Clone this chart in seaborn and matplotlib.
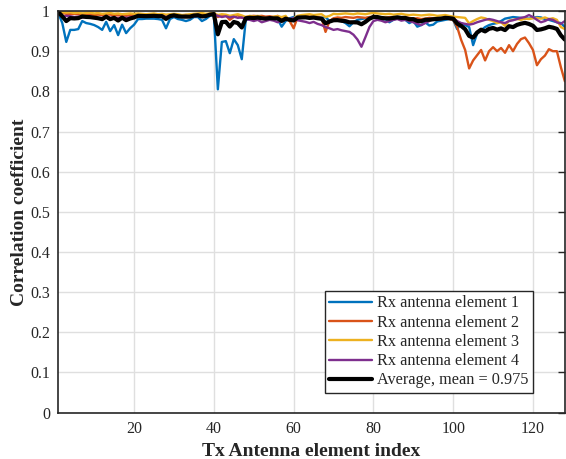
import matplotlib

matplotlib.use("Agg")

import matplotlib.pyplot as plt
import numpy as np
import pandas as pd
import seaborn as sns

# ------------------------------------------------------------------
# DATA
# ------------------------------------------------------------------

tx_index = list(range(1, 129))

rx1 = [
    0.995, 0.970, 0.923, 0.953, 0.953, 0.955, 0.975, 0.970, 0.968, 0.965,
    0.960, 0.953, 0.973, 0.950, 0.965, 0.940, 0.966, 0.945, 0.957, 0.966,
    0.980, 0.980, 0.981, 0.981, 0.981, 0.980, 0.978, 0.957, 0.980, 0.985,
    0.980, 0.978, 0.975, 0.978, 0.985, 0.985, 0.975, 0.980, 0.988, 0.990,
    0.805, 0.923, 0.925, 0.895, 0.930, 0.915, 0.880, 0.978, 0.980, 0.981,
    0.982, 0.983, 0.982, 0.981, 0.980, 0.980, 0.961, 0.975, 0.982, 0.985,
    0.985, 0.984, 0.985, 0.983, 0.985, 0.984, 0.983, 0.985, 0.975, 0.980,
    0.978, 0.975, 0.970, 0.962, 0.972, 0.978, 0.980, 0.982, 0.984, 0.985,
    0.983, 0.978, 0.980, 0.972, 0.978, 0.982, 0.980, 0.978, 0.970, 0.975,
    0.961, 0.965, 0.972, 0.964, 0.966, 0.974, 0.976, 0.978, 0.980, 0.978,
    0.955, 0.970, 0.965, 0.960, 0.915, 0.944, 0.952, 0.960, 0.965, 0.968,
    0.970, 0.975, 0.981, 0.983, 0.985, 0.984, 0.983, 0.982, 0.981, 0.983,
    0.985, 0.984, 0.980, 0.978, 0.975, 0.972, 0.970, 0.960,
]

rx2 = [
    1.000, 0.995, 0.993, 0.992, 0.993, 0.992, 0.993, 0.991, 0.992, 0.990,
    0.991, 0.990, 0.992, 0.991, 0.990, 0.989, 0.991, 0.988, 0.990, 0.991,
    0.990, 0.991, 0.990, 0.989, 0.990, 0.991, 0.990, 0.988, 0.990, 0.991,
    0.990, 0.989, 0.990, 0.988, 0.990, 0.991, 0.990, 0.989, 0.992, 0.993,
    0.985, 0.990, 0.989, 0.978, 0.985, 0.990, 0.983, 0.985, 0.987, 0.988,
    0.987, 0.988, 0.986, 0.987, 0.985, 0.988, 0.980, 0.983, 0.975, 0.957,
    0.985, 0.987, 0.988, 0.986, 0.987, 0.985, 0.983, 0.948, 0.975, 0.982,
    0.984, 0.983, 0.985, 0.984, 0.983, 0.985, 0.984, 0.983, 0.985, 0.986,
    0.985, 0.984, 0.983, 0.985, 0.984, 0.983, 0.982, 0.984, 0.983, 0.981,
    0.982, 0.980, 0.981, 0.983, 0.982, 0.981, 0.980, 0.982, 0.980, 0.978,
    0.960, 0.928, 0.903, 0.857, 0.877, 0.890, 0.903, 0.877, 0.900, 0.910,
    0.900, 0.908, 0.896, 0.915, 0.900, 0.918, 0.930, 0.934, 0.920, 0.903,
    0.865, 0.880, 0.889, 0.905, 0.900, 0.900, 0.860, 0.825,
]

rx3 = [
    1.000, 0.997, 0.996, 0.997, 0.995, 0.996, 0.994, 0.995, 0.996, 0.994,
    0.995, 0.993, 0.994, 0.995, 0.993, 0.994, 0.992, 0.993, 0.994, 0.993,
    0.994, 0.993, 0.992, 0.993, 0.994, 0.992, 0.993, 0.991, 0.992, 0.993,
    0.992, 0.990, 0.991, 0.992, 0.993, 0.994, 0.995, 0.993, 0.994, 0.995,
    0.990, 0.992, 0.991, 0.988, 0.990, 0.992, 0.989, 0.985, 0.988, 0.986,
    0.988, 0.985, 0.982, 0.984, 0.986, 0.987, 0.985, 0.988, 0.975, 0.982,
    0.988, 0.990, 0.991, 0.992, 0.990, 0.991, 0.992, 0.985, 0.988, 0.993,
    0.992, 0.993, 0.994, 0.993, 0.992, 0.994, 0.993, 0.992, 0.994, 0.995,
    0.994, 0.993, 0.992, 0.993, 0.991, 0.992, 0.993, 0.991, 0.990, 0.991,
    0.990, 0.989, 0.990, 0.991, 0.990, 0.988, 0.989, 0.990, 0.988, 0.986,
    0.985, 0.984, 0.983, 0.969, 0.975, 0.980, 0.984, 0.982, 0.978, 0.975,
    0.970, 0.972, 0.963, 0.976, 0.978, 0.980, 0.978, 0.981, 0.980, 0.982,
    0.983, 0.981, 0.984, 0.980, 0.982, 0.978, 0.960, 0.955,
]

rx4 = [
    0.995, 0.985, 0.988, 0.987, 0.985, 0.986, 0.984, 0.985, 0.983, 0.984,
    0.982, 0.983, 0.985, 0.983, 0.984, 0.982, 0.985, 0.983, 0.984, 0.986,
    0.988, 0.987, 0.986, 0.988, 0.987, 0.986, 0.988, 0.985, 0.987, 0.988,
    0.986, 0.987, 0.988, 0.986, 0.987, 0.988, 0.986, 0.988, 0.990, 0.992,
    0.988, 0.985, 0.987, 0.984, 0.986, 0.983, 0.984, 0.980, 0.978, 0.975,
    0.978, 0.972, 0.975, 0.978, 0.976, 0.972, 0.975, 0.978, 0.980, 0.982,
    0.977, 0.975, 0.973, 0.970, 0.973, 0.968, 0.965, 0.960, 0.957, 0.953,
    0.955, 0.952, 0.950, 0.948, 0.941, 0.929, 0.911, 0.935, 0.960, 0.975,
    0.978, 0.976, 0.972, 0.975, 0.978, 0.980, 0.976, 0.978, 0.975, 0.972,
    0.968, 0.965, 0.970, 0.975, 0.980, 0.978, 0.980, 0.982, 0.981, 0.982,
    0.975, 0.970, 0.968, 0.966, 0.968, 0.972, 0.975, 0.978, 0.980, 0.978,
    0.975, 0.972, 0.970, 0.975, 0.977, 0.980, 0.983, 0.985, 0.990, 0.985,
    0.978, 0.972, 0.975, 0.980, 0.978, 0.972, 0.968, 0.975,
]

series_names = [
    "Rx antenna element 1",
    "Rx antenna element 2",
    "Rx antenna element 3",
    "Rx antenna element 4",
]
series_colors = ["#0072BD", "#D95319", "#EDB120", "#7E2F8E"]

y_ticks = [0, 0.1, 0.2, 0.3, 0.4, 0.5, 0.6, 0.7, 0.8, 0.9, 1]
y_tick_labels = ["0", "0.1", "0.2", "0.3", "0.4", "0.5",
                 "0.6", "0.7", "0.8", "0.9", "1"]
x_ticks = [20, 40, 60, 80, 100, 120]

# ------------------------------------------------------------------
# DATA PREPARATION
# ------------------------------------------------------------------

df = pd.DataFrame(
    {
        "tx": tx_index,
        series_names[0]: rx1,
        series_names[1]: rx2,
        series_names[2]: rx3,
        series_names[3]: rx4,
    }
)
# average over the four receive elements
df["average"] = df[series_names].mean(axis=1)
mean_value = 0.975

long_df = df.melt(
    id_vars="tx",
    value_vars=series_names,
    var_name="element",
    value_name="corr",
)

# ------------------------------------------------------------------
# PLOT
# ------------------------------------------------------------------

sns.set_theme(style="white")
plt.rcParams["font.family"] = ["Liberation Serif", "DejaVu Serif"]

fig = plt.figure(figsize=(5.66, 4.59), dpi=100)
ax = fig.add_axes([0.103, 0.101, 0.895, 0.875])

sns.lineplot(
    data=long_df,
    x="tx",
    y="corr",
    hue="element",
    hue_order=series_names,
    palette=series_colors,
    linewidth=1.7,
    ax=ax,
)
sns.lineplot(
    data=df,
    x="tx",
    y="average",
    color="black",
    linewidth=3.0,
    label=f"Average, mean = {mean_value}",
    ax=ax,
)

ax.set_xlim(1, 128)
ax.set_ylim(0, 1)
ax.set_xticks(x_ticks)
ax.set_yticks(y_ticks)
ax.set_yticklabels(y_tick_labels)

ax.grid(True, color="#dfdfdf", linewidth=1.0)
ax.set_axisbelow(True)

for side in ["left", "bottom", "top", "right"]:
    ax.spines[side].set_visible(True)
    ax.spines[side].set_color("#262626")
    ax.spines[side].set_linewidth(1.2)

ax.tick_params(
    direction="in",
    length=5,
    width=1.0,
    color="#262626",
    labelcolor="#262626",
    labelsize=11.5,
    top=True,
    right=True,
    pad=6,
)

ax.set_xlabel("Tx Antenna element index", fontsize=14, fontweight="bold",
              labelpad=4)
ax.set_ylabel("Correlation coefficient", fontsize=14, fontweight="bold",
              labelpad=1.5)

leg = ax.legend(
    loc="lower right",
    bbox_to_anchor=(0.937, 0.048),
    fontsize=11.7,
    frameon=True,
    fancybox=False,
    edgecolor="#262626",
    framealpha=1.0,
    handlelength=2.6,
    handletextpad=0.3,
    borderpad=0.3,
    labelspacing=0.2,
    borderaxespad=0.0,
)
leg.get_frame().set_linewidth(1.0)

fig.savefig("out.png", dpi=100)
plt.close(fig)
